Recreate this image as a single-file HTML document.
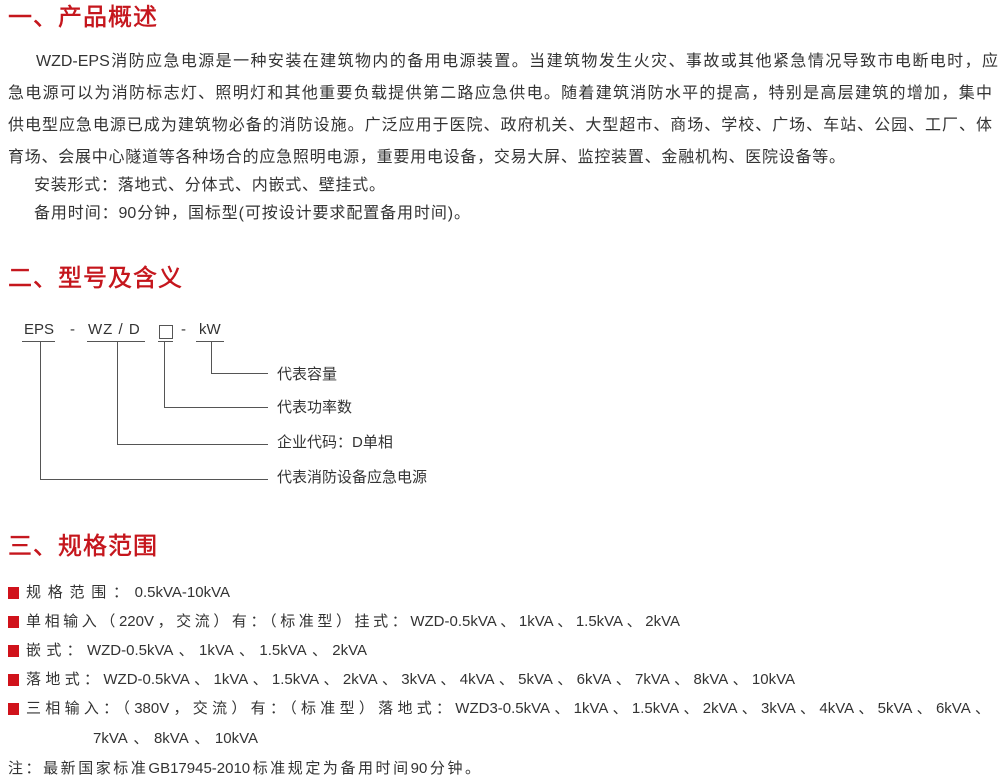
<!DOCTYPE html>
<html><head><meta charset="utf-8"><style>
body{margin:0;width:1000px;height:782px;background:#fff;position:relative;overflow:hidden;font-family:"Liberation Sans","Noto Sans CJK SC",sans-serif;color:#333;}
.h{position:absolute;left:8px;color:#c5161d;font-size:24px;-webkit-text-stroke:0.5px #c5161d;letter-spacing:1px;line-height:30px;white-space:nowrap;}
.l{position:absolute;font-size:16px;line-height:20px;white-space:nowrap;text-align:justify;text-align-last:justify;}
.b{position:absolute;font-size:15px;line-height:20px;white-space:nowrap;text-align:justify;text-align-last:justify;}
.sq{position:absolute;left:8px;width:11px;height:12px;background:#d0121b;}
.ln{position:absolute;background:#555;}
.t{position:absolute;font-size:15px;line-height:20px;white-space:nowrap;}
</style></head><body>
<div class="h" style="top:3px">一、产品概述</div>
<div class="l" style="top:52px;left:36px;width:962px">WZD-EPS消防应急电源是一种安装在建筑物内的备用电源装置。当建筑物发生火灾、事故或其他紧急情况导致市电断电时，应</div>
<div class="l" style="top:84px;left:8px;width:984px">急电源可以为消防标志灯、照明灯和其他重要负载提供第二路应急供电。随着建筑消防水平的提高，特别是高层建筑的增加，集中</div>
<div class="l" style="top:116px;left:8px;width:984px">供电型应急电源已成为建筑物必备的消防设施。广泛应用于医院、政府机关、大型超市、商场、学校、广场、车站、公园、工厂、体</div>
<div class="l" style="top:148px;left:8px;width:837px">育场、会展中心隧道等各种场合的应急照明电源，重要用电设备，交易大屏、监控装置、金融机构、医院设备等。</div>
<div class="l" style="top:176px;left:34px;width:351px">安装形式：落地式、分体式、内嵌式、壁挂式。</div>
<div class="l" style="top:204px;left:34px;width:436px">备用时间：90分钟，国标型(可按设计要求配置备用时间)。</div>

<div class="h" style="top:264px">二、型号及含义</div>
<div class="t" style="left:24px;top:320px">EPS</div>
<div class="t" style="left:70px;top:320px">-</div>
<div class="t" style="left:88px;top:320px;letter-spacing:1px">WZ / D</div>
<div style="position:absolute;left:159px;top:325px;width:12px;height:12px;border:1px solid #555"></div>
<div class="t" style="left:181px;top:320px">-</div>
<div class="t" style="left:199px;top:320px">kW</div>
<div class="ln" style="left:22px;top:341px;width:33px;height:1px"></div>
<div class="ln" style="left:87px;top:341px;width:58px;height:1px"></div>
<div class="ln" style="left:158px;top:341px;width:15px;height:1px"></div>
<div class="ln" style="left:196px;top:341px;width:28px;height:1px"></div>
<div class="ln" style="left:40px;top:341px;width:1px;height:139px"></div>
<div class="ln" style="left:40px;top:479px;width:228px;height:1px"></div>
<div class="ln" style="left:117px;top:341px;width:1px;height:104px"></div>
<div class="ln" style="left:117px;top:444px;width:151px;height:1px"></div>
<div class="ln" style="left:164px;top:341px;width:1px;height:67px"></div>
<div class="ln" style="left:164px;top:407px;width:104px;height:1px"></div>
<div class="ln" style="left:211px;top:341px;width:1px;height:33px"></div>
<div class="ln" style="left:211px;top:373px;width:57px;height:1px"></div>
<div class="t" style="left:277px;top:365px">代表容量</div>
<div class="t" style="left:277px;top:398px">代表功率数</div>
<div class="t" style="left:277px;top:433px">企业代码：D单相</div>
<div class="t" style="left:277px;top:468px">代表消防设备应急电源</div>

<div class="h" style="top:532px">三、规格范围</div>
<div class="sq" style="top:587px"></div><div class="b" style="top:583px;left:26px;width:204px">规格范围：0.5kVA-10kVA</div>
<div class="sq" style="top:616px"></div><div class="b" style="top:612px;left:26px;width:654px">单相输入（220V，交流）有：（标准型）挂式：WZD-0.5kVA、1kVA、1.5kVA、2kVA</div>
<div class="sq" style="top:645px"></div><div class="b" style="top:641px;left:26px;width:341px">嵌式：WZD-0.5kVA、1kVA、1.5kVA、2kVA</div>
<div class="sq" style="top:674px"></div><div class="b" style="top:670px;left:26px;width:769px">落地式：WZD-0.5kVA、1kVA、1.5kVA、2kVA、3kVA、4kVA、5kVA、6kVA、7kVA、8kVA、10kVA</div>
<div class="sq" style="top:703px"></div><div class="b" style="top:699px;left:26px;width:964px">三相输入：（380V，交流）有：（标准型）落地式：WZD3-0.5kVA、1kVA、1.5kVA、2kVA、3kVA、4kVA、5kVA、6kVA、</div>
<div class="b" style="top:729px;left:93px;width:165px">7kVA、8kVA、10kVA</div>
<div class="b" style="top:759px;left:8px;width:472px">注：最新国家标准GB17945-2010标准规定为备用时间90分钟。</div>
</body></html>
